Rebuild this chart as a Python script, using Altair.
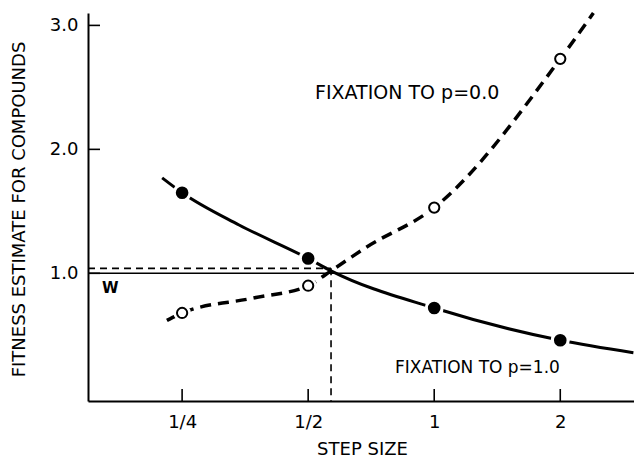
import altair as alt
import pandas as pd

# ---- data ----
steps = [0.25, 0.5, 1, 2]
fix1_obs = [1.65, 1.12, 0.72, 0.46]   # filled dots, fixation to p=1.0
fix0_obs = [0.68, 0.90, 1.53, 2.73]   # open dots, fixation to p=0.0

fix1_curve_x = [0.224, 0.25, 0.342, 0.5, 0.567, 1, 2, 2.99]
fix1_curve_y = [1.77, 1.65, 1.39, 1.12, 1.02, 0.72, 0.46, 0.36]
fix0_curve_x = [0.230, 0.25, 0.369, 0.5, 0.567, 0.688, 1, 2, 2.40]
fix0_curve_y = [0.62, 0.68, 0.80, 0.90, 1.02, 1.21, 1.53, 2.73, 3.10]

x_ticks = [0.25, 0.5, 1, 2]
x_tick_labels = ["1/4", "1/2", "1", "2"]
y_ticks = [1.0, 2.0, 3.0]

w_level = [1.0]
cross_x = [0.567]
cross_y = [1.04]

label_fix0 = "FIXATION TO p=0.0"
label_fix1 = "FIXATION TO p=1.0"
label_w = "W"

W, H = 546, 388
FONT = "DejaVu Sans"

label_expr = " : ".join(
    f"datum.value == {v} ? '{l}'" for v, l in zip(x_ticks, x_tick_labels)
) + " : ''"

xscale = alt.Scale(type="log", base=2, domain=[0.149, 3.0], nice=False)
yscale = alt.Scale(domain=[-0.03, 3.1], nice=False, zero=False)

xaxis = alt.Axis(values=x_ticks, labelExpr=label_expr, ticks=False, grid=False,
                 domainWidth=2, domainColor="black", labelPadding=12,
                 labelFontSize=18, labelFont=FONT, labelColor="black",
                 title="STEP SIZE", titleFont=FONT, titleFontSize=18,
                 titleFontWeight="normal", titleColor="black",
                 titleX=274, titleY=48, titleBaseline="middle", titleAlign="center")
yaxis = alt.Axis(values=y_ticks, format=".1f", ticks=False, grid=False,
                 domainWidth=2, domainColor="black", labelPadding=10,
                 labelFontSize=18, labelFont=FONT, labelColor="black",
                 title="FITNESS ESTIMATE FOR COMPOUNDS", titleFont=FONT,
                 titleFontSize=18, titleFontWeight="normal", titleColor="black",
                 titleAngle=270, titleX=-69, titleY=196,
                 titleBaseline="middle", titleAlign="center")


def X(f):
    return alt.X(f, type="quantitative", scale=xscale, axis=xaxis)


def Y(f):
    return alt.Y(f, type="quantitative", scale=yscale, axis=yaxis)


obs = pd.DataFrame({"x": steps, "y1": fix1_obs, "y0": fix0_obs})
c1 = pd.DataFrame({"x": fix1_curve_x, "y": fix1_curve_y})
c0 = pd.DataFrame({"x": fix0_curve_x, "y": fix0_curve_y})
xt = pd.DataFrame({"x": x_ticks})
yt = pd.DataFrame({"y": y_ticks})
wl = pd.DataFrame({"y": w_level})
cr = pd.DataFrame({"x": cross_x, "y": cross_y, "x0": [0.149]})

base = alt.Chart(obs)

curve1 = alt.Chart(c1).mark_line(interpolate="monotone", strokeWidth=3,
                                 color="black").encode(x=X("x"), y=Y("y"))
curve0 = alt.Chart(c0).mark_line(interpolate="monotone", strokeWidth=3.5,
                                 color="black", strokeDash=[11, 7],
                                 strokeCap="butt").encode(x=X("x"), y=Y("y"))

halo1 = base.mark_circle(size=360, color="white", opacity=1).encode(x=X("x"), y=Y("y1"))
halo0 = base.mark_circle(size=300, color="white", opacity=1).encode(x=X("x"), y=Y("y0"))

wline = alt.Chart(wl).mark_rule(color="black", strokeWidth=1.6).encode(
    y=Y("y"), x=alt.value(0), x2=alt.value(W))
hdash = alt.Chart(cr).mark_rule(color="black", strokeWidth=1.6, strokeDash=[7, 5]).encode(
    y=Y("y"), x=X("x0"), x2=alt.X2("x"))
vdash = alt.Chart(cr).mark_rule(color="black", strokeWidth=1.6, strokeDash=[7, 5]).encode(
    x=X("x"), y=Y("y"), y2=alt.value(H))

dots1 = base.mark_circle(size=160, color="black", opacity=1).encode(x=X("x"), y=Y("y1"))
dots0 = base.mark_circle(size=105, fill="white", stroke="black", strokeWidth=2,
                         opacity=1).encode(x=X("x"), y=Y("y0"))

xticks = alt.Chart(xt).mark_rule(color="black", strokeWidth=1.6).encode(
    x=X("x"), y=alt.value(H), y2=alt.value(H - 12))
yticks = alt.Chart(yt).mark_rule(color="black", strokeWidth=1.6).encode(
    y=Y("y"), x=alt.value(0), x2=alt.value(12))

lab0 = alt.Chart(pd.DataFrame({"t": [label_fix0]})).mark_text(
    font=FONT, fontSize=19, align="left", baseline="middle", color="black").encode(
    text="t:N", x=alt.value(227), y=alt.value(80))
lab1 = alt.Chart(pd.DataFrame({"t": [label_fix1]})).mark_text(
    font=FONT, fontSize=17, align="left", baseline="middle", color="black").encode(
    text="t:N", x=alt.value(307), y=alt.value(355))
labw = alt.Chart(pd.DataFrame({"t": [label_w]})).mark_text(
    font=FONT, fontSize=15, fontWeight="bold", align="left", baseline="middle",
    color="black").encode(text="t:N", x=alt.value(14), y=alt.value(275))

chart = alt.layer(
    curve1, curve0, halo1, halo0, wline, hdash, vdash, dots1, dots0,
    xticks, yticks, lab0, lab1, labw
).properties(
    width=W, height=H,
    autosize=alt.AutoSizeParams(type="none"),
    padding={"left": 88, "top": 13, "right": 0, "bottom": 58},
    background="white",
).configure_view(stroke=None)

chart.save("out.html", embed_options={"renderer": "svg", "actions": False})
